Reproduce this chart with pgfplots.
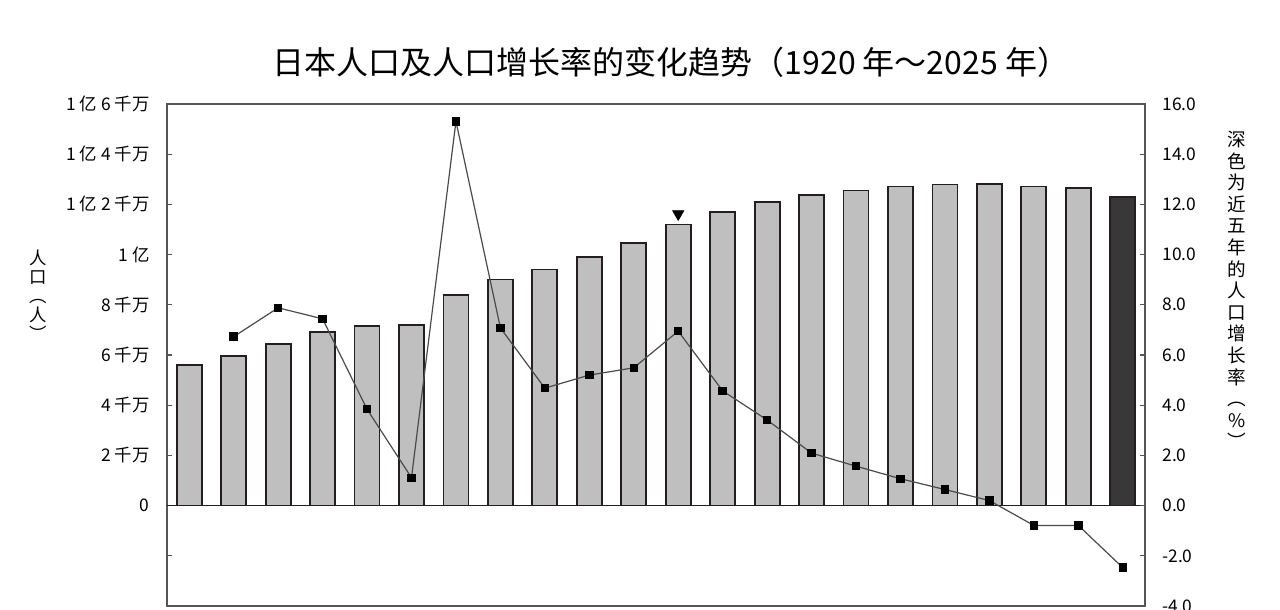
\documentclass[border=0pt]{standalone}
\usepackage{pgfplots}
\pgfplotsset{compat=1.18}
\usepackage{fontspec}
\setmainfont{Noto Sans CJK SC}
\definecolor{bargray}{HTML}{BFBFBF}
\definecolor{bardark}{HTML}{383838}
\definecolor{edge}{HTML}{231F20}
\definecolor{framec}{HTML}{555555}
\definecolor{linec}{HTML}{4A4A4A}
\begin{document}
\begin{tikzpicture}
\begin{axis}[
  scale only axis, width=489pt, height=251pt,
  xmin=-0.5, xmax=21.5, ymin=-4, ymax=16,
  axis line style={framec, line width=0.6pt},
  xtick=\empty,
  ytick={-4,-2,0,2,4,6,8,10,12,14,16},
  yticklabels={,,0,2\hspace{2pt}千万,4\hspace{2pt}千万,6\hspace{2pt}千万,8\hspace{2pt}千万,1\hspace{2pt}亿,1\hspace{2pt}亿\hspace{2pt}2\hspace{2pt}千万,1\hspace{2pt}亿\hspace{2pt}4\hspace{2pt}千万,1\hspace{2pt}亿\hspace{2pt}6\hspace{2pt}千万},
  yticklabel style={font=\fontsize{8.7}{10}\selectfont, anchor=east, inner sep=0pt, xshift=-8.5pt},
  ytick pos=left, tick align=inside, major tick length=2.5pt,
  tick style={framec, line width=0.6pt},
  ybar, bar width=12.5pt, bar shift=0pt,
  clip=false,
]
\addplot[fill=bargray, draw=edge, line width=0.9pt] coordinates {
(0,5.59) (1,5.96) (2,6.44) (3,6.92) (4,7.17) (5,7.21) (6,8.40) (7,9.01) (8,9.41) (9,9.92)
(10,10.47) (11,11.20) (12,11.71) (13,12.11) (14,12.37) (15,12.55) (16,12.71) (17,12.79)
(18,12.81) (19,12.71) (20,12.64)};
\addplot[fill=bardark, draw=edge, line width=0.9pt] coordinates {(21,12.31)};
\draw[edge, line width=0.9pt] (axis cs:-0.5,0) -- (axis cs:21.5,0);
\end{axis}
\begin{axis}[
  scale only axis, width=489pt, height=251pt,
  xmin=-0.5, xmax=21.5, ymin=-4, ymax=16,
  axis x line=none, axis y line*=right,
  axis line style={framec, line width=0.6pt},
  ytick={-4,-2,0,2,4,6,8,10,12,14,16},
  yticklabels={-4.0,-2.0,0.0,2.0,4.0,6.0,8.0,10.0,12.0,14.0,16.0},
  yticklabel style={font=\fontsize{8.7}{10}\selectfont, anchor=west, inner sep=0pt, xshift=8.5pt},
  tick align=inside, major tick length=2.5pt,
  tick style={framec, line width=0.6pt},
  clip=false,
]
\addplot[linec, line width=0.6pt, mark=square*, mark size=1.8pt, mark options={fill=black, draw=black}] coordinates {
(1,6.73) (2,7.88) (3,7.44) (4,3.84) (5,1.11) (6,15.31) (7,7.08) (8,4.68) (9,5.20) (10,5.49)
(11,6.95) (12,4.57) (13,3.41) (14,2.09) (15,1.57) (16,1.07) (17,0.64) (18,0.20) (19,-0.79)
(20,-0.79) (21,-2.47)};
\addplot[only marks, mark=triangle*, mark size=3.2pt, mark options={rotate=180, fill=black, draw=black}] coordinates {(11,11.62)};
\end{axis}
\node[font=\fontsize{16}{18}\selectfont] at (252pt,272pt) {日本人口及人口增长率的变化趋势（1920 年～2025 年）};
\node[font=\fontsize{9.3}{10.8}\selectfont, align=center] at (535pt,158pt) {深\\色\\为\\近\\五\\年\\的\\人\\口\\增\\长\\率\\︵\\\%\\︶};
\node[font=\fontsize{8.7}{9.5}\selectfont, align=center] at (-64.5pt,155.5pt) {人\\口\\︵\\人\\︶};
\pgfresetboundingbox
\path[use as bounding box] (-83.5pt,-2pt) rectangle (556.5pt,303pt);
\end{tikzpicture}
\end{document}
